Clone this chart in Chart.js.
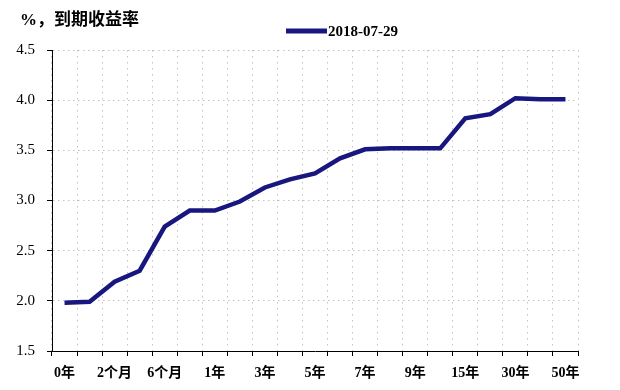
<!DOCTYPE html>
<html lang="zh">
<head>
  <meta charset="UTF-8">
  <title>到期收益率曲线</title>
  <script src="https://cdn.jsdelivr.net/npm/chart.js"></script>
  <style>
    body { margin: 0; background: #fff; }
    #wrap { width: 620px; height: 390px; }
  </style>
</head>
<body>
  <div id="wrap"><canvas id="curve"></canvas></div>

  <script>
    // 期限
    const terms = ["0年", "1个月", "2个月", "3个月", "6个月", "9个月", "1年", "2年", "3年", "4年",
                   "5年", "6年", "7年", "8年", "9年", "10年", "15年", "20年", "30年", "40年", "50年"];
    // 到期收益率 (%)
    const yields = [1.98, 1.99, 2.19, 2.30, 2.74, 2.90, 2.90, 2.99, 3.13, 3.21,
                    3.27, 3.42, 3.51, 3.52, 3.52, 3.52, 3.82, 3.86, 4.02, 4.01, 4.01];
    const seriesName = "2018-07-29";
    const yTicks = [1.5, 2.0, 2.5, 3.0, 3.5, 4.0, 4.5];
    const titleText = "%，到期收益率";

    const FONT = "'Liberation Serif', 'Noto Sans CJK SC', serif";
    const NAVY = "#18167f";

    // 左上角标题和图例，手工画
    const headerPlugin = {
      id: 'header',
      afterDraw(chart) {
        const ctx = chart.ctx;
        ctx.save();
        ctx.fillStyle = '#000';
        ctx.textBaseline = 'middle';
        ctx.font = "bold 17px " + FONT;
        ctx.fillText(titleText, 20, 21);

        const ds = chart.data.datasets[0];
        ctx.strokeStyle = ds.borderColor;
        ctx.lineWidth = 5;
        ctx.beginPath();
        ctx.moveTo(286, 31);
        ctx.lineTo(327, 31);
        ctx.stroke();
        ctx.font = "bold 15px " + FONT;
        ctx.fillText(ds.label, 328, 32);
        ctx.restore();
      }
    };

    new Chart(document.getElementById('curve'), {
      type: 'line',
      data: {
        labels: terms,
        datasets: [{
          label: seriesName,
          data: yields,
          borderColor: NAVY,
          backgroundColor: NAVY,
          borderWidth: 4.5,
          pointRadius: 0,
          tension: 0
        }]
      },
      options: {
        responsive: true,
        maintainAspectRatio: false,
        animation: false,
        layout: { padding: { top: 50, right: 42, bottom: 0, left: 0 } },
        plugins: {
          legend: { display: false },
          tooltip: { enabled: false }
        },
        scales: {
          x: {
            offset: true,
            grid: {
              offset: true,
              color: '#c2c2c2',
              tickColor: '#000',
              tickLength: 5
            },
            border: { color: '#000', width: 1, dash: [1.5, 4.5] },
            ticks: {
              autoSkip: false,
              maxRotation: 0,
              padding: 9,
              color: '#000',
              font: { family: FONT, size: 14, weight: 'bold' },
              callback: (v, i) => i % 2 === 0 ? terms[i] : ''
            },
            afterFit: s => { s.height = 39; }
          },
          y: {
            min: 1.5,
            max: 4.5,
            afterBuildTicks: s => { s.ticks = yTicks.map(v => ({ value: v })); },
            grid: {
              color: '#c2c2c2',
              tickColor: '#000',
              tickLength: 5
            },
            border: { color: '#000', width: 1, dash: [1.5, 3.5] },
            ticks: {
              padding: 12,
              color: '#000',
              font: { family: FONT, size: 15 },
              callback: v => v.toFixed(1)
            },
            afterFit: s => { s.width = 52; }
          }
        }
      },
      plugins: [headerPlugin]
    });
  </script>
</body>
</html>
